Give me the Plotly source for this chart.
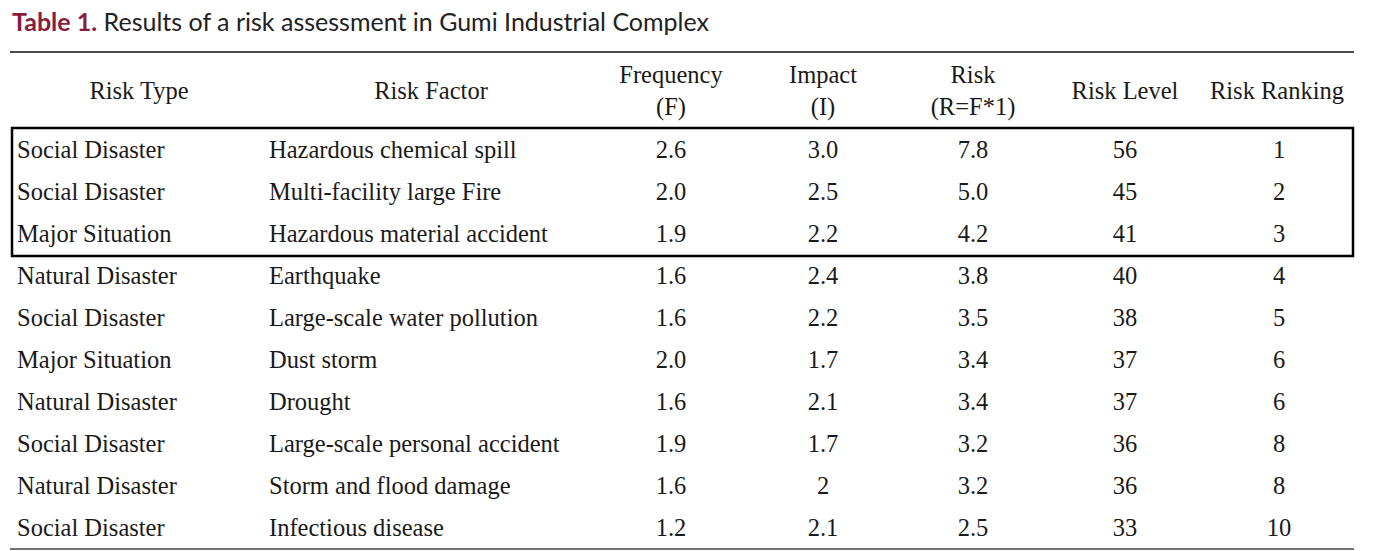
import plotly.graph_objects as go

# ---- data ----
header_labels = ["Risk Type", "Risk Factor", "Frequency<br>(F)", "Impact<br>(I)",
                 "Risk<br>(R=F*1)", "Risk Level", "Risk Ranking"]
risk_type = ["Social Disaster", "Social Disaster", "Major Situation", "Natural Disaster",
             "Social Disaster", "Major Situation", "Natural Disaster", "Social Disaster",
             "Natural Disaster", "Social Disaster"]
risk_factor = ["Hazardous chemical spill", "Multi-facility large Fire",
               "Hazardous material accident", "Earthquake", "Large-scale water pollution",
               "Dust storm", "Drought", "Large-scale personal accident",
               "Storm and flood damage", "Infectious disease"]
frequency = ["2.6", "2.0", "1.9", "1.6", "1.6", "2.0", "1.6", "1.9", "1.6", "1.2"]
impact = ["3.0", "2.5", "2.2", "2.4", "2.2", "1.7", "2.1", "1.7", "2", "2.1"]
risk = ["7.8", "5.0", "4.2", "3.8", "3.5", "3.4", "3.4", "3.2", "3.2", "2.5"]
risk_level = [56, 45, 41, 40, 38, 37, 37, 36, 36, 33]
risk_ranking = [1, 2, 3, 4, 5, 6, 6, 8, 8, 10]

# ---- layout geometry (pixels) ----
W, H = 1374, 551
row_y0, row_dy = 152, 42
rows_y = [row_y0 + i * row_dy for i in range(len(risk_type))]
serif = "Liberation Serif"
fs = 24.5
txt_color = "#1a1a1a"

fig = go.Figure()

def col_text(x, vals, pos):
    fig.add_trace(go.Scatter(
        x=[x] * len(vals), y=rows_y, mode="text",
        text=[str(v) for v in vals], textposition=pos,
        textfont=dict(family=serif, size=fs, color=txt_color),
        hoverinfo="skip", showlegend=False, cliponaxis=False))

col_text(17, risk_type, "middle right")
col_text(269, risk_factor, "middle right")
for x, vals in [(671, frequency), (823, impact), (973, risk),
                (1125, risk_level), (1279, risk_ranking)]:
    col_text(x, vals, "middle center")

# header
header_x = [139, 431, 671, 823, 973, 1125, 1277]
fig.add_trace(go.Scatter(
    x=header_x, y=[93] * len(header_x), mode="text",
    text=header_labels, textposition="middle center",
    textfont=dict(family=serif, size=fs, color=txt_color),
    hoverinfo="skip", showlegend=False, cliponaxis=False))

# rules and box
fig.add_shape(type="line", x0=10, x1=1354, y0=52, y1=52,
              line=dict(color="#111111", width=1.5))
fig.add_shape(type="line", x0=10, x1=1354, y0=549, y1=549,
              line=dict(color="#444444", width=1.5))
fig.add_shape(type="rect", x0=12, x1=1353, y0=128, y1=256,
              line=dict(color="#000000", width=2.5))

# title
fig.add_annotation(
    x=11, y=21, xref="x", yref="y", xanchor="left", yanchor="middle",
    showarrow=False, borderpad=0,
    text="<b><span style='color:#8b1c3f'>Table 1.</span></b> Results of a risk assessment in Gumi Industrial Complex",
    font=dict(family="Lato", size=25, color="#222222"))

fig.update_layout(
    width=W, height=H, margin=dict(l=0, r=0, t=0, b=0),
    paper_bgcolor="white", plot_bgcolor="white",
    xaxis=dict(range=[0, W], visible=False, fixedrange=True),
    yaxis=dict(range=[H, 0], visible=False, fixedrange=True),
)
fig.write_html("out.html", config={"displayModeBar": False},
               post_script="document.body.style.margin='0px';document.body.style.overflow='hidden';")
